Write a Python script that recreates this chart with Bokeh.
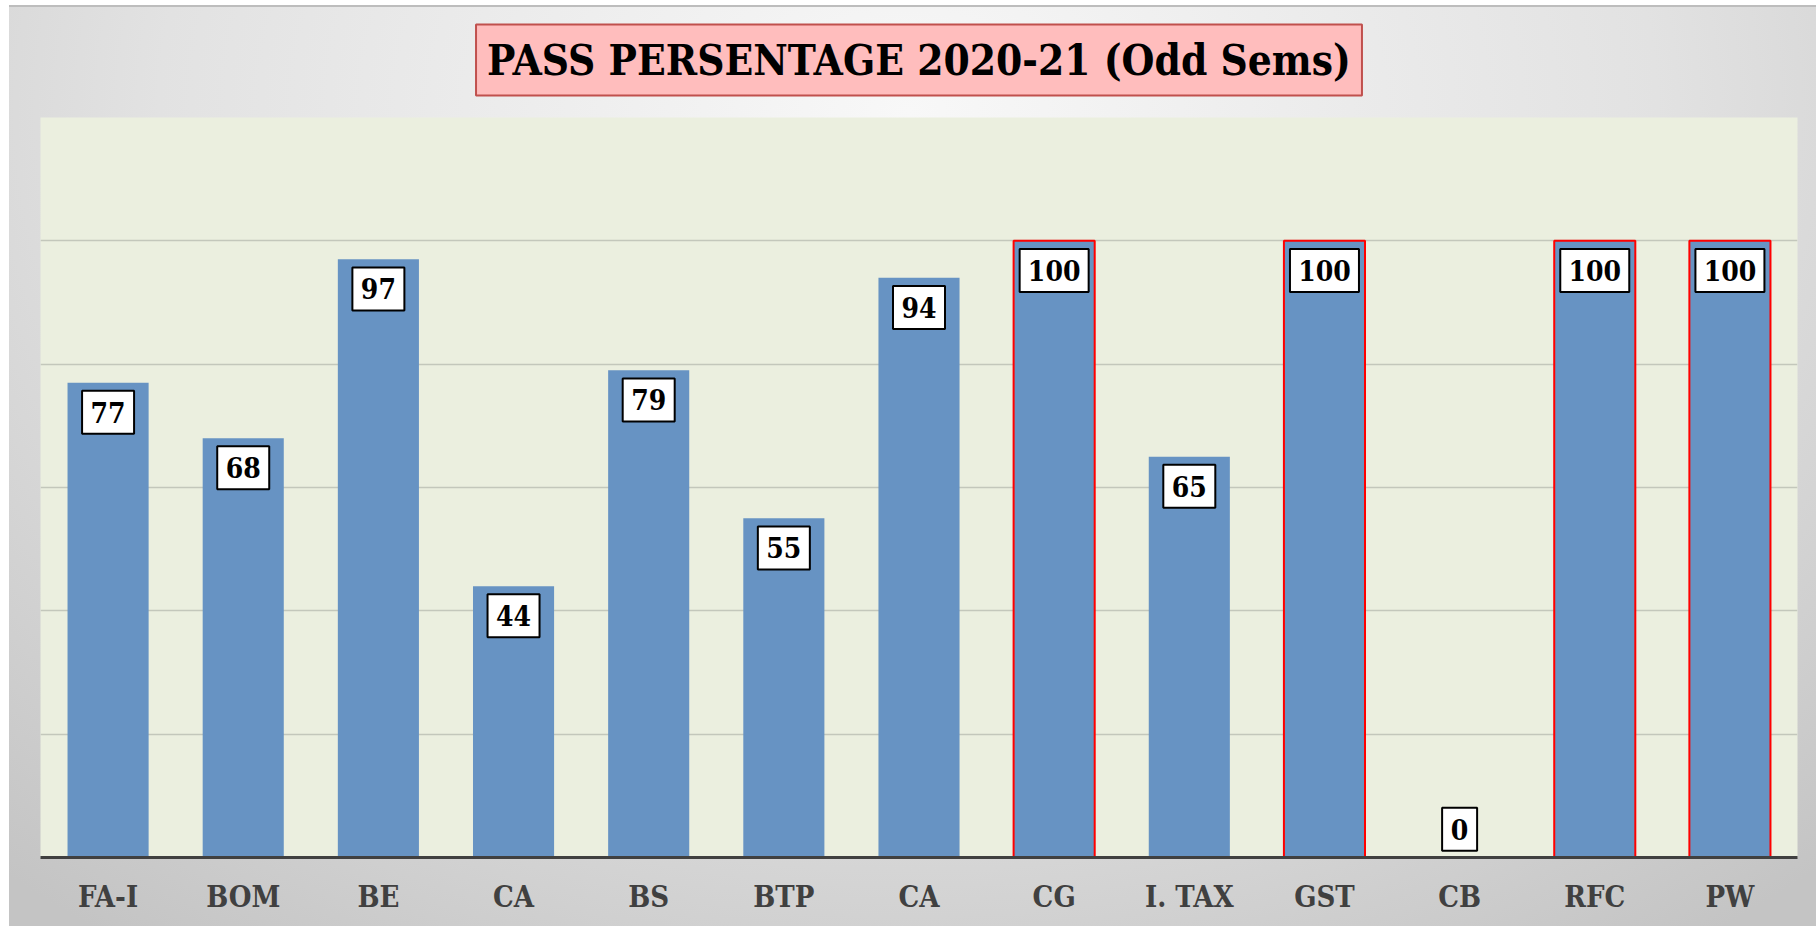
from bokeh.plotting import figure
from bokeh.models import Range1d, FixedTicker, ColumnDataSource, Title
from bokeh.core.properties import value
from bokeh.embed import file_html
from bokeh.resources import INLINE

categories = ["FA-I", "BOM", "BE", "CA", "BS", "BTP", "CA", "CG", "I. TAX", "GST", "CB", "RFC", "PW"]
pass_pct = [77, 68, 97, 44, 79, 55, 94, 100, 65, 100, 0, 100, 100]
y_ticks = [0, 20, 40, 60, 80, 100]
title_text = "PASS PERSENTAGE 2020-21 (Odd Sems)"

FONT = "DejaVu Serif Condensed"
W, H = 1816, 926

xs = list(range(len(categories)))
src = ColumnDataSource(dict(
    x=xs,
    v=pass_pct,
    txt=[str(v) for v in pass_pct],
    ly=[max(v - 4.8, 4.6) for v in pass_pct],
    bw=[len(str(v)) * 17 + 18 for v in pass_pct],
    lc=["#ff0000" if v == 100 else None for v in pass_pct],
))

title = Title(text=title_text, align="center", text_font=FONT, text_font_style="bold",
              text_font_size="42px", text_color="black", text_line_height=0.9,
              background_fill_color="#ffbdbd", border_line_color="#c0504d", border_line_width=2,
              padding=11, standoff=44)

p = figure(width=W, height=H, output_backend="svg", toolbar_location=None, title=title,
           x_range=Range1d(-0.5, len(categories) - 0.5), y_range=Range1d(0, 120),
           min_border_left=40, min_border_right=19, min_border_top=116, min_border_bottom=69)
p.styles = {"background": (
    "linear-gradient(#ffffff,#ffffff) left top / 9px 100% no-repeat, "
    "linear-gradient(#ffffff,#ffffff) left top / 100% 5px no-repeat, "
    "linear-gradient(#bdbdbd,#bdbdbd) left 5px / 100% 2px no-repeat, "
    "radial-gradient(ellipse 75% 110% at 50% 12%, #f8f8f8 0%, #e2e2e2 55%, #c4c4c4 100%)")}
p.border_fill_color = None
p.background_fill_color = "#ebefdf"
p.outline_line_color = None

p.vbar(x="x", top="v", width=0.6, source=src, fill_color="#6793c3",
       line_color="lc", line_width=2)

p.rect(x="x", y="ly", width="bw", height=43, width_units="screen", height_units="screen",
       source=src, fill_color="white", line_color="black", line_width=2)
p.text(x="x", y="ly", text="txt", source=src, text_align="center", text_baseline="middle",
       text_font=value(FONT), text_font_style="bold", text_font_size="28px", text_color="black")

p.yaxis.visible = False
p.ygrid.ticker = FixedTicker(ticks=y_ticks)
p.ygrid.grid_line_color = "#c3c7bb"
p.ygrid.grid_line_width = 1.5
p.xgrid.grid_line_color = None

ax = p.xaxis[0]
ax.ticker = FixedTicker(ticks=xs)
ax.major_label_overrides = {i: c for i, c in enumerate(categories)}
ax.major_tick_line_color = None
ax.minor_tick_line_color = None
ax.axis_line_color = "#404040"
ax.axis_line_width = 3
ax.major_label_text_font = FONT
ax.major_label_text_font_style = "bold"
ax.major_label_text_font_size = "29px"
ax.major_label_text_color = "#404040"
ax.major_label_standoff = 16

open("out.html", "w").write(file_html(p, INLINE))
